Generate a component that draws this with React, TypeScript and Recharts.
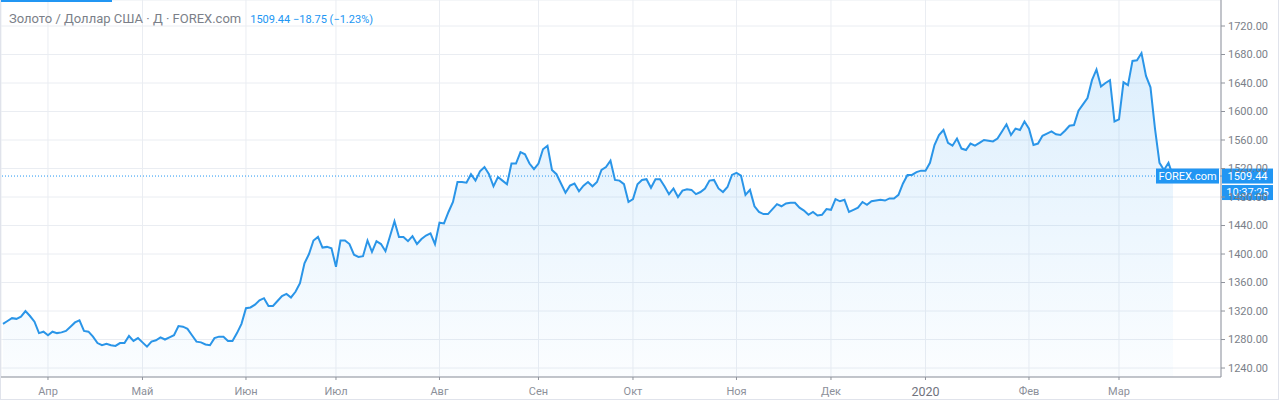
import { ComposedChart, Area, XAxis, YAxis, CartesianGrid, ReferenceLine } from 'recharts'

// daily closes, XAU/USD, mid-Mar 2019 .. 18 Mar 2020
const prices = [
  1302, 1306, 1310, 1309, 1312, 1320, 1313, 1305, 1289, 1291,
  1286, 1291, 1289, 1290, 1292, 1298, 1304, 1307, 1292, 1291,
  1284, 1275, 1272, 1274, 1272, 1271, 1275, 1275, 1285, 1278,
  1282, 1276, 1270, 1277, 1279, 1283, 1280, 1283, 1286, 1299,
  1298, 1295, 1286, 1277, 1276, 1273, 1272, 1282, 1284, 1284,
  1278, 1278, 1289, 1302, 1324, 1325, 1329, 1335, 1338, 1327,
  1327, 1334, 1341, 1344, 1339, 1347, 1359, 1387, 1400, 1419,
  1424, 1409, 1410, 1408, 1382, 1419, 1419, 1414, 1399, 1396,
  1397, 1419, 1403, 1418, 1414, 1404, 1425, 1446, 1424, 1424,
  1418, 1425, 1414, 1421, 1426, 1429, 1414, 1444, 1443, 1459,
  1473, 1501, 1501, 1500, 1512, 1503, 1516, 1522, 1512, 1495,
  1508, 1503, 1498, 1527, 1527, 1543, 1540, 1527, 1519, 1527,
  1547, 1552, 1518, 1512, 1499, 1486, 1496, 1499, 1488, 1496,
  1501, 1495, 1501, 1518, 1522, 1531, 1504, 1503, 1498, 1473,
  1477, 1498, 1504, 1505, 1493, 1505, 1505, 1495, 1484, 1492,
  1480, 1489, 1491, 1490, 1484, 1487, 1492, 1503, 1504, 1492,
  1487, 1494, 1511, 1514, 1510, 1483, 1490, 1467, 1459, 1456,
  1456, 1463, 1470, 1467, 1471, 1472, 1472, 1465, 1461, 1455,
  1459, 1454, 1455, 1463, 1462, 1477, 1474, 1476, 1459, 1462,
  1465, 1473, 1469, 1474, 1475, 1476, 1475, 1478, 1478, 1483,
  1499, 1511, 1511, 1515, 1517, 1517, 1528, 1553, 1567, 1574,
  1556, 1552, 1562, 1548, 1546, 1555, 1552, 1556, 1560, 1559,
  1558, 1562, 1572, 1582, 1567, 1576, 1574, 1586, 1576, 1553,
  1555, 1566, 1569, 1572, 1568, 1567, 1573, 1580, 1581, 1601,
  1610, 1619, 1644, 1659, 1635, 1640, 1644, 1586, 1589, 1641,
  1637, 1671, 1672, 1682, 1650, 1634, 1576, 1528, 1518, 1528,
  1509.44,
]

// bar index of the first trading day of each month
const monthTicks = [10, 31, 54, 74, 97, 119, 140, 163, 184, 205, 228, 248]
const monthLabels = ['Апр', 'Май', 'Июн', 'Июл', 'Авг', 'Сен', 'Окт', 'Ноя', 'Дек', '2020', 'Фев', 'Мар']
const priceTicks = [1240, 1280, 1320, 1360, 1400, 1440, 1480, 1520, 1560, 1600, 1640, 1680, 1720]

const lastPrice = 1509.44
const change = -18.75
const changePct = -1.23
const clock = '10:37:25'

const BLUE = '#2196f3'
const FONT = 'Roboto, "Liberation Sans", sans-serif'

const data = prices.map((p, i) => ({ i, p }))

function MonthTick(props: any) {
  const { x, y, payload } = props
  const idx = monthTicks.indexOf(payload.value)
  const label = monthLabels[idx] ?? ''
  const isYear = label === '2020'
  return (
    <text
      x={x}
      y={y + 9}
      textAnchor="middle"
      dominantBaseline="central"
      fontFamily={FONT}
      fontSize={isYear ? 12.5 : 11}
      fill={isYear ? '#6f737d' : '#8c909a'}
    >
      {label}
    </text>
  )
}

function PriceTick(props: any) {
  const { x, y, payload } = props
  return (
    <text x={x} y={y} dominantBaseline="central" fontFamily={FONT} fontSize={11} fill="#7b7f89">
      {payload.value.toFixed(2)}
    </text>
  )
}

function LastPriceLabel(props: any) {
  const vb = props.viewBox ?? {}
  const right = vb.x + vb.width
  const y = vb.y
  return (
    <g fontFamily={FONT}>
      <rect x={right - 65} y={y - 7.5} width={63} height={15} fill={BLUE} />
      <text x={right - 33.5} y={y} textAnchor="middle" dominantBaseline="central" fontSize={11} fill="#fff">
        FOREX.com
      </text>
      <line x1={right} x2={right + 4} y1={y} y2={y} stroke={BLUE} />
      <rect x={right + 1} y={y - 7.5} width={51} height={15} fill={BLUE} />
      <text x={right + 26.5} y={y} textAnchor="middle" dominantBaseline="central" fontSize={11} fill="#fff">
        {lastPrice.toFixed(2)}
      </text>
      <rect x={right + 1} y={y + 9} width={51} height={15} fill={BLUE} />
      <text x={right + 26.5} y={y + 16.5} textAnchor="middle" dominantBaseline="central" fontSize={11} fill="#fff">
        {clock}
      </text>
    </g>
  )
}

export default function App() {
  const sign = (v: number) => (v < 0 ? '\u2212' + Math.abs(v).toFixed(2) : '+' + v.toFixed(2))
  return (
    <div style={{ position: 'absolute', left: 0, top: 0, width: 1280, height: 401, background: '#fff', overflow: 'hidden' }}>
      <ComposedChart width={1280} height={401} data={data} margin={{ top: 0, right: 2, bottom: 2, left: 1 }}>
        <defs>
          <linearGradient id="goldFill" x1="0" y1="0" x2="0" y2="1">
            <stop offset="0%" stopColor={BLUE} stopOpacity={0.26} />
            <stop offset="100%" stopColor={BLUE} stopOpacity={0.03} />
          </linearGradient>
        </defs>
        <CartesianGrid stroke="#eaedf2" />
        <XAxis
          type="number"
          dataKey="i"
          domain={[-0.44, 270.67]}
          allowDataOverflow
          ticks={monthTicks}
          interval={0}
          height={22}
          tickSize={3}
          stroke="#8f939c"
          tick={<MonthTick />}
        />
        <YAxis
          orientation="right"
          domain={[1227.4, 1756.5]}
          allowDataOverflow
          ticks={priceTicks}
          interval={0}
          width={57}
          tickSize={4}
          tickMargin={3}
          stroke="#8f939c"
          tick={<PriceTick />}
        />
        <Area
          type="linear"
          dataKey="p"
          stroke="#2a95e8"
          strokeWidth={2}
          fill="url(#goldFill)"
          isAnimationActive={false}
          dot={false}
          activeDot={false}
        />
        <ReferenceLine
          y={lastPrice}
          stroke={BLUE}
          strokeDasharray="1 2"
          label={<LastPriceLabel />}
        />
      </ComposedChart>

      <div style={{ position: 'absolute', left: 0, top: 0, width: 112, height: 2, background: BLUE }} />
      <div
        style={{
          position: 'absolute',
          left: 0,
          top: 0,
          width: 1277,
          height: 399,
          borderLeft: '1px solid #e0e3eb',
          borderRight: '1px solid #e0e3eb',
          borderBottom: '1px solid #e0e3eb',
          pointerEvents: 'none',
        }}
      />
      <div
        style={{
          position: 'absolute',
          left: 9,
          top: 11,
          fontFamily: FONT,
          fontSize: 13,
          color: '#7b7f89',
          whiteSpace: 'nowrap',
          display: 'flex',
          alignItems: 'baseline',
        }}
      >
        <span>Золото / Доллар США · Д · FOREX.com</span>
        <span style={{ marginLeft: 9, fontSize: 11, color: BLUE }}>
          {lastPrice.toFixed(2)} {sign(change)} ({sign(changePct)}%)
        </span>
      </div>
    </div>
  )
}
